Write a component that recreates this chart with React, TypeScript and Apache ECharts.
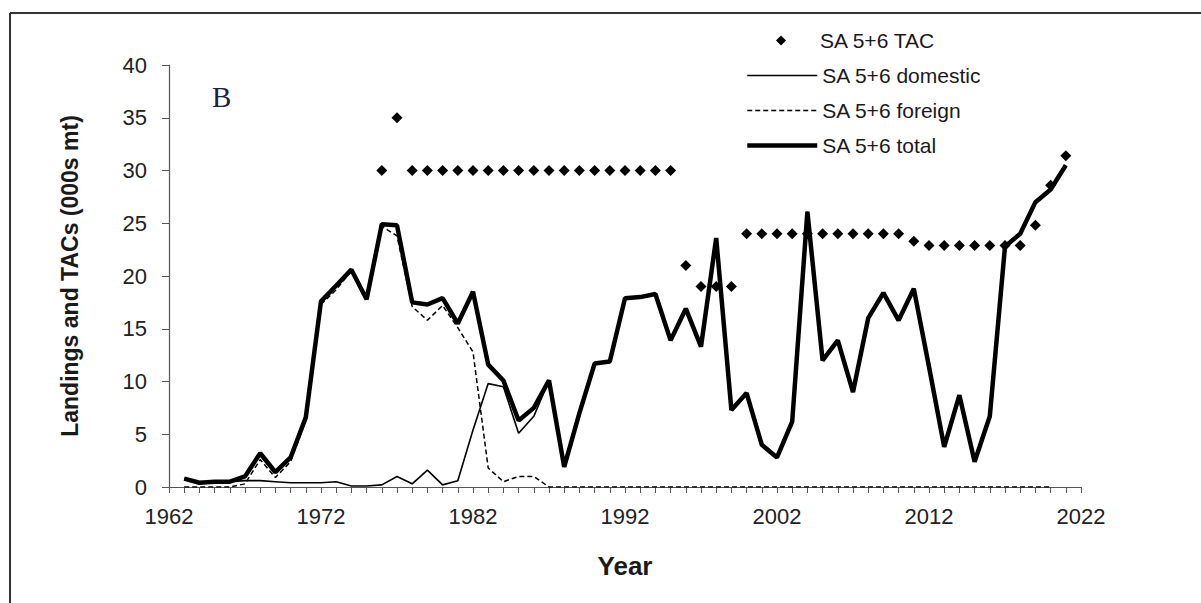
import React, { useEffect, useRef } from "react";
import * as echarts from "echarts";

const landingYears = [
  1963, 1964, 1965, 1966, 1967, 1968, 1969, 1970, 1971, 1972, 1973, 1974, 1975, 1976, 1977, 1978, 1979, 1980,
  1981, 1982, 1983, 1984, 1985, 1986, 1987, 1988, 1989, 1990, 1991, 1992, 1993, 1994, 1995, 1996, 1997, 1998,
  1999, 2000, 2001, 2002, 2003, 2004, 2005, 2006, 2007, 2008, 2009, 2010, 2011, 2012, 2013, 2014, 2015, 2016,
  2017, 2018, 2019, 2020, 2021,
];

const totalValues = [
  0.8, 0.4, 0.5, 0.5, 1.0, 3.2, 1.4, 2.8, 6.6, 17.6, 19.1, 20.6, 17.8, 24.9, 24.8, 17.5, 17.3, 17.9,
  15.5, 18.5, 11.6, 10.1, 6.3, 7.5, 10.1, 1.9, 7.0, 11.7, 11.9, 17.9, 18.0, 18.3, 13.9, 16.9, 13.3, 23.6,
  7.3, 8.9, 4.0, 2.8, 6.2, 26.1, 12.0, 13.9, 9.0, 16.0, 18.4, 15.8, 18.8, 11.4, 3.8, 8.7, 2.4, 6.7,
  22.8, 24.0, 27.0, 28.2, 30.5,
];

const domesticValues = [
  0.8, 0.4, 0.5, 0.5, 0.6, 0.6, 0.5, 0.4, 0.4, 0.4, 0.5, 0.1, 0.1, 0.2, 1.0, 0.3, 1.6, 0.2,
  0.6, 5.4, 9.8, 9.5, 5.1, 6.7, 10.1, 1.9, 7.0, 11.7, 11.9, 17.9, 18.0, 18.3, 13.9, 16.9, 13.3, 23.6,
  7.3, 8.9, 4.0, 2.8, 6.2, 26.1, 12.0, 13.9, 9.0, 16.0, 18.4, 15.8, 18.8, 11.4, 3.8, 8.7, 2.4, 6.7,
  22.8, 24.0, 27.0, 28.2, 30.5,
];

// foreign landings 1963..2020
const foreignValues = [
  0, 0, 0, 0, 0.3, 2.6, 0.9, 2.4, 6.3, 17.3, 18.7, 20.5, 17.7, 24.7, 23.8, 17.1, 15.8, 17.2,
  15.1, 12.8, 1.8, 0.5, 1.0, 1.0, 0, 0, 0, 0, 0, 0, 0, 0, 0, 0, 0, 0,
  0, 0, 0, 0, 0, 0, 0, 0, 0, 0, 0, 0, 0, 0, 0, 0, 0, 0,
  0, 0, 0, 0,
];

const tacYears = [
  1976, 1977, 1978, 1979, 1980, 1981, 1982, 1983, 1984, 1985, 1986, 1987, 1988, 1989, 1990, 1991, 1992, 1993,
  1994, 1995, 1996, 1997, 1998, 1999, 2000, 2001, 2002, 2003, 2004, 2005, 2006, 2007, 2008, 2009, 2010, 2011,
  2012, 2013, 2014, 2015, 2016, 2017, 2018, 2019, 2020, 2021,
];

const tacValues = [
  30, 35, 30, 30, 30, 30, 30, 30, 30, 30, 30, 30, 30, 30, 30, 30, 30, 30,
  30, 30, 21, 19, 19, 19, 24, 24, 24, 24, 24, 24, 24, 24, 24, 24, 24, 23.3,
  22.9, 22.9, 22.9, 22.9, 22.9, 22.9, 22.9, 24.8, 28.6, 31.4,
];

const seriesNames = ["SA 5+6 TAC", "SA 5+6 domestic", "SA 5+6 foreign", "SA 5+6 total"];

const pairs = (xs: number[], ys: number[]) => ys.map((v, i) => [xs[i], v]);

const FONT = "Liberation Sans, Arial, sans-serif";
const legendText = { fontSize: 21, color: "#1a1a1a", fontFamily: FONT };

export default function App() {
  const ref = useRef<HTMLDivElement>(null);

  useEffect(() => {
    if (!ref.current) return;
    const chart = echarts.init(ref.current, undefined, { renderer: "svg" });
    chart.setOption({
      animation: false,
      backgroundColor: "#ffffff",
      textStyle: { fontFamily: FONT },
      grid: { left: 169, right: 120, top: 65, bottom: 116, containLabel: false },
      legend: [
        {
          orient: "vertical",
          left: 771,
          top: 25,
          itemWidth: 10,
          itemHeight: 10,
          symbolKeepAspect: true,
          data: [{ name: seriesNames[0], icon: "diamond", itemStyle: { color: "#000", opacity: 1 } }],
          textStyle: { ...legendText, padding: [0, 0, 0, 29] },
        },
        {
          orient: "vertical",
          left: 740,
          top: 60,
          itemWidth: 70,
          itemHeight: 10,
          itemGap: 14,
          itemStyle: { opacity: 0 },
          data: [
            { name: seriesNames[1], lineStyle: { width: 1.6, color: "#000", type: "solid" } },
            { name: seriesNames[2], lineStyle: { width: 1.5, color: "#000", type: [5, 3] } },
            { name: seriesNames[3], lineStyle: { width: 4.5, color: "#000", type: "solid" } },
          ],
          textStyle: legendText,
        },
      ],
      xAxis: {
        type: "value",
        min: 1962,
        max: 2022,
        interval: 10,
        name: "Year",
        nameLocation: "middle",
        nameGap: 66,
        nameTextStyle: { fontSize: 26, fontWeight: "bold", color: "#1a1a1a", fontFamily: FONT },
        axisLine: { show: true, lineStyle: { color: "#555555", width: 1.2 } },
        axisTick: { show: true, length: 6, lineStyle: { color: "#555555" } },
        minorTick: { show: true, splitNumber: 10, length: 6, lineStyle: { color: "#555555" } },
        splitLine: { show: false },
        minorSplitLine: { show: false },
        axisLabel: {
          fontSize: 22,
          color: "#222222",
          margin: 18,
          fontFamily: FONT,
          formatter: (v: number) => String(v),
        },
      },
      yAxis: {
        type: "value",
        min: 0,
        max: 40,
        interval: 5,
        name: "Landings and TACs (000s mt)",
        nameLocation: "middle",
        nameGap: 88,
        nameTextStyle: { fontSize: 23, fontWeight: "bold", color: "#1a1a1a", fontFamily: FONT },
        axisLine: { show: true, lineStyle: { color: "#555555", width: 1.2 } },
        axisTick: { show: true, length: 7, lineStyle: { color: "#555555" } },
        splitLine: { show: false },
        axisLabel: { fontSize: 22, color: "#222222", margin: 22, fontFamily: FONT },
      },
      graphic: [
        {
          type: "line",
          shape: { x1: 10, y1: 13, x2: 1201, y2: 13 },
          style: { stroke: "#333333", lineWidth: 2 },
        },
        {
          type: "line",
          shape: { x1: 10, y1: 13, x2: 10, y2: 603 },
          style: { stroke: "#333333", lineWidth: 2 },
        },
        {
          type: "text",
          left: 212,
          top: 82,
          style: {
            text: "B",
            font: "29px 'Liberation Serif', 'Times New Roman', serif",
            fill: "#1b2340",
          },
        },
      ],
      series: [
        {
          name: seriesNames[3],
          type: "line",
          data: pairs(landingYears, totalValues),
          symbol: "none",
          lineStyle: { color: "#000000", width: 4.5 },
          itemStyle: { color: "#000000" },
          z: 2,
        },
        {
          name: seriesNames[1],
          type: "line",
          data: pairs(landingYears, domesticValues),
          symbol: "none",
          lineStyle: { color: "#000000", width: 1.6 },
          itemStyle: { color: "#000000" },
          z: 3,
        },
        {
          name: seriesNames[2],
          type: "line",
          data: pairs(landingYears.slice(0, foreignValues.length), foreignValues),
          symbol: "none",
          lineStyle: { color: "#000000", width: 1.5, type: [5, 3] },
          itemStyle: { color: "#000000" },
          z: 3,
        },
        {
          name: seriesNames[0],
          type: "scatter",
          data: pairs(tacYears, tacValues),
          symbol: "diamond",
          symbolSize: 11,
          symbolKeepAspect: true,
          itemStyle: { color: "#000000", opacity: 1 },
          z: 4,
        },
      ],
    });
    return () => chart.dispose();
  }, []);

  return (
    <div
      ref={ref}
      style={{ position: "fixed", left: 0, top: 0, width: 1201, height: 603, background: "#fff" }}
    />
  );
}
